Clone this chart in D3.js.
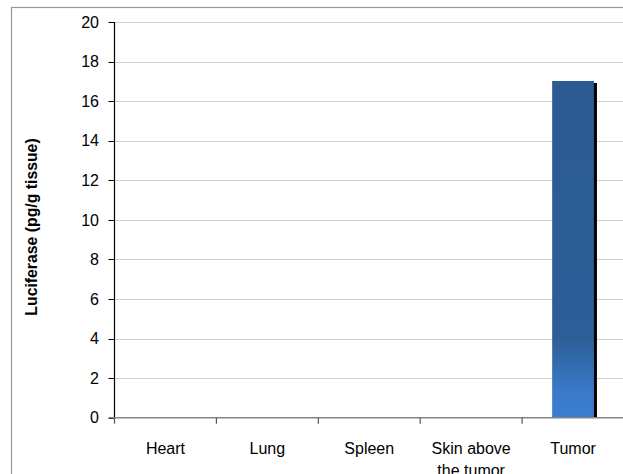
<!DOCTYPE html>
<html><head><meta charset="utf-8">
<script src="https://cdn.jsdelivr.net/npm/d3@7"></script>
<style>html,body{margin:0;padding:0;background:#fff;overflow:hidden}</style>
</head><body>
<svg id="c" width="623" height="474"></svg>
<script>
const categories = [["Heart"], ["Lung"], ["Spleen"], ["Skin above", "the tumor"], ["Tumor"]];
const values = [0, 0, 0, 0, 17.02];
const yTicks = [0, 2, 4, 6, 8, 10, 12, 14, 16, 18, 20];
const yTitle = "Luciferase (pg/g tissue)";

(function() {
const svg = d3.select("#c");
const font = "'Liberation Sans', Arial, sans-serif";
const pLeft = 114.5, pRight = 624, pTop = 22, pBottom = 417.7;
const keys = categories.map(c => c.join(" "));

const x = d3.scaleBand().domain(keys).range([pLeft, pRight]).paddingInner(0.59).paddingOuter(0.295);
const y = d3.scaleLinear().domain([0, 20]).range([pBottom, pTop]);

// frame
svg.append("rect").attr("x", 11.5).attr("y", 7.5).attr("width", 700).attr("height", 600)
  .attr("fill", "#fff").attr("stroke", "#9a9a9a").attr("stroke-width", 1.2);

// gradient
const defs = svg.append("defs");
const g = defs.append("linearGradient").attr("id", "bg").attr("x1", 0).attr("y1", 0).attr("x2", 0).attr("y2", 1);
[[0, "#2c5b93"], [0.76, "#2d5e97"], [0.93, "#3a7acb"], [1, "#3b7dcf"]].forEach(([o, c]) =>
  g.append("stop").attr("offset", o).attr("stop-color", c));

// gridlines
svg.append("g").selectAll("line").data(yTicks.filter(d => d > 0)).join("line")
  .attr("x1", pLeft).attr("x2", 623).attr("y1", d => Math.round(y(d)) + 0.5).attr("y2", d => Math.round(y(d)) + 0.5)
  .attr("stroke", "#cfcfcf").attr("stroke-width", 1.2);

// bars: shadow + bar
const data = keys.map((k, i) => ({k, v: values[i]}));
svg.append("g").selectAll("rect").data(data.filter(d => d.v > 0)).join("rect")
  .attr("x", d => x(d.k) + 3).attr("y", d => y(d.v) + 2)
  .attr("width", x.bandwidth()).attr("height", d => pBottom - y(d.v) - 2).attr("fill", "#000");
svg.append("g").selectAll("rect").data(data.filter(d => d.v > 0)).join("rect")
  .attr("x", d => x(d.k)).attr("y", d => y(d.v))
  .attr("width", x.bandwidth()).attr("height", d => pBottom - y(d.v)).attr("fill", "url(#bg)");

// y axis
const ya = svg.append("g");
ya.append("line").attr("x1", pLeft).attr("x2", pLeft).attr("y1", pTop).attr("y2", pBottom).attr("stroke", "#000").attr("stroke-width", 1.2);
ya.selectAll("line.t").data(yTicks).join("line").attr("class", "t")
  .attr("x1", pLeft - 6).attr("x2", pLeft).attr("y1", d => Math.round(y(d)) + 0.5).attr("y2", d => Math.round(y(d)) + 0.5)
  .attr("stroke", "#000").attr("stroke-width", 1);
ya.selectAll("text").data(yTicks).join("text")
  .attr("x", 99).attr("y", d => y(d)).attr("dy", "0.36em").attr("text-anchor", "end")
  .attr("font-family", font).attr("font-size", 16).attr("fill", "#000").text(d => d);

// x axis
const step = x.step();
const bounds = keys.map(k => x(k) - step * x.paddingInner() / 2);
svg.append("line").attr("x1", pLeft - 6).attr("x2", 623).attr("y1", pBottom).attr("y2", pBottom)
  .attr("stroke", "#858585").attr("stroke-width", 1.6);
svg.append("g").selectAll("line").data(bounds).join("line")
  .attr("x1", d => d).attr("x2", d => d).attr("y1", pBottom).attr("y2", pBottom + 6)
  .attr("stroke", "#555").attr("stroke-width", 1.2);
const xl = svg.append("g").selectAll("text").data(categories).join("text")
  .attr("x", (d, i) => x(keys[i]) + x.bandwidth() / 2).attr("y", 453.5).attr("text-anchor", "middle")
  .attr("font-family", font).attr("font-size", 16).attr("fill", "#000");
xl.selectAll("tspan").data(d => d).join("tspan")
  .attr("x", function() { return d3.select(this.parentNode).attr("x"); })
  .attr("dy", (d, i) => i === 0 ? 0 : 22).text(d => d);

// y title
svg.append("text").attr("transform", "translate(31,227) rotate(-90)").attr("text-anchor", "middle")
  .attr("dy", "0.35em").attr("font-family", font).attr("font-size", 15.8).attr("font-weight", "bold")
  .attr("fill", "#000").text(yTitle);
})();
</script>
</body></html>
